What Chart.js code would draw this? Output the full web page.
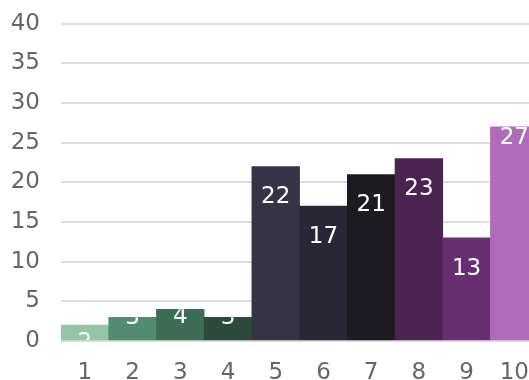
<!DOCTYPE html>
<html>
<head>
<meta charset="utf-8">
<script src="https://cdn.jsdelivr.net/npm/chart.js@4/dist/chart.umd.min.js"></script>
<style>
  html, body { margin: 0; padding: 0; overflow: hidden; background: #ffffff; }
  #frame { width: 529px; height: 380px; position: relative; overflow: hidden; }
  #wrap { width: 547px; height: 391px; position: absolute; left: 0; top: -11px; }
</style>
</head>
<body>
<div id="frame"><div id="wrap"><canvas id="chart"></canvas></div></div>
<script>
const categories = ['1', '2', '3', '4', '5', '6', '7', '8', '9', '10'];
const values = [2, 3, 4, 3, 22, 17, 21, 23, 13, 27];
const barColors = ['#94c4aa', '#528d71', '#3e6d56', '#2b4a3b', '#363345',
                   '#282733', '#1c1b22', '#4b2350', '#663070', '#b06bba'];
const yMin = 0, yMax = 40, yStep = 5;

const FONT_FAMILY = '"DejaVu Sans", sans-serif';
const FONT_SIZE = 23;
// how far below each bar's top edge its value label sits (px, label centre)
const labelDrop = [15, -2, 5, -2, 28, 28, 28.5, 28, 28.5, 8.5];

// white value labels, clipped to their own bar
const insideLabels = {
  id: 'insideLabels',
  afterDatasetsDraw(chart) {
    const ctx = chart.ctx;
    const meta = chart.getDatasetMeta(0);
    meta.data.forEach((bar, i) => {
      const { x, y, base, width } = bar.getProps(['x', 'y', 'base', 'width'], true);
      ctx.save();
      ctx.beginPath();
      ctx.rect(x - width / 2, y, width, base - y);
      ctx.clip();
      ctx.fillStyle = '#ffffff';
      ctx.font = FONT_SIZE + 'px ' + FONT_FAMILY;
      ctx.textAlign = 'center';
      ctx.textBaseline = 'alphabetic';
      ctx.fillText(String(values[i]), x, y + labelDrop[i] + FONT_SIZE * 0.3645);
      ctx.restore();
    });
  }
};

new Chart(document.getElementById('chart'), {
  type: 'bar',
  data: {
    labels: categories,
    datasets: [{
      data: values,
      backgroundColor: barColors,
      borderWidth: 0,
      categoryPercentage: 1.0,
      barPercentage: 1.0
    }]
  },
  options: {
    responsive: true,
    maintainAspectRatio: false,
    animation: false,
    layout: { padding: { top: 1, right: 1, bottom: 0, left: 0 } },
    plugins: { legend: { display: false }, tooltip: { enabled: false } },
    scales: {
      x: {
        grid: { display: false, drawTicks: false },
        border: { display: false },
        ticks: {
          color: '#666666',
          font: { family: FONT_FAMILY, size: FONT_SIZE },
          padding: 18,
          maxRotation: 0
        },
        afterFit(scale) { scale.height = 39; }
      },
      y: {
        min: yMin,
        max: yMax,
        grid: { color: '#dddddd', lineWidth: 2, drawTicks: false },
        border: { display: false },
        ticks: {
          stepSize: yStep,
          color: '#666666',
          font: { family: FONT_FAMILY, size: FONT_SIZE },
          padding: 21
        },
        afterFit(scale) { scale.width = 61; }
      }
    }
  },
  plugins: [insideLabels]
});
</script>
</body>
</html>
